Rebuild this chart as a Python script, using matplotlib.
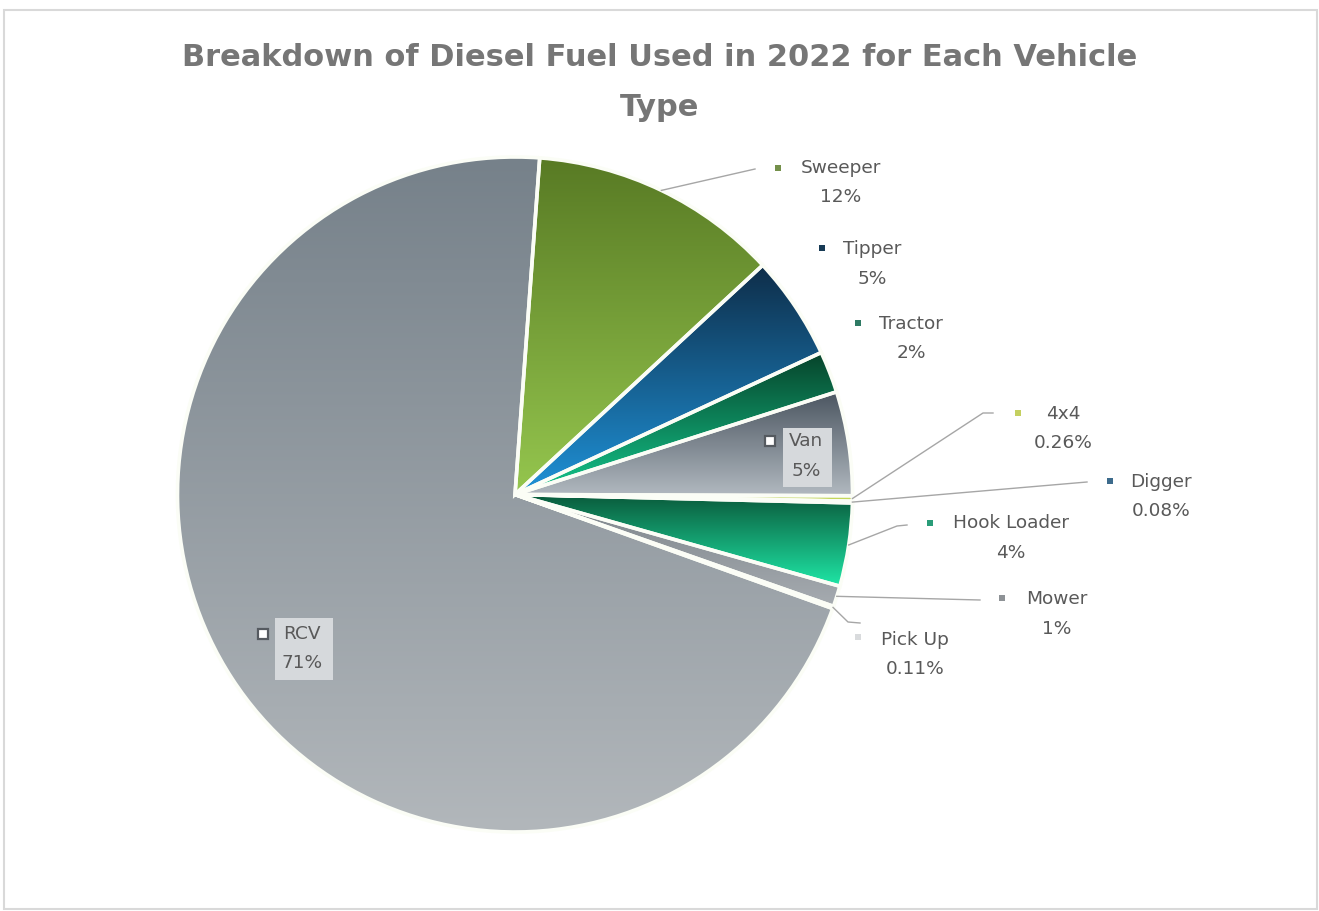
import numpy as np
import matplotlib
matplotlib.use("Agg")
import matplotlib.pyplot as plt
from matplotlib.patches import Rectangle
from matplotlib.colors import to_rgb

# ---------------- data ----------------
categories = ["Sweeper", "Tipper", "Tractor", "Van", "4x4", "Digger",
              "Hook Loader", "Mower", "Pick Up", "RCV"]
values = [12, 5, 2, 5, 0.26, 0.08, 4, 1, 0.11, 71]
pct_labels = ["12%", "5%", "2%", "5%", "0.26%", "0.08%", "4%", "1%", "0.11%", "71%"]
title = "Breakdown of Diesel Fuel Used in 2022 for Each Vehicle\nType"

# ---------------- styles ----------------
grad_top = ["#587a24", "#0e2d48", "#07432a", "#4b5661", "#a9bd35", "#2f5f82",
            "#0a5a3b", "#7b8389", "#bfc3c7", "#76818a"]
grad_bot = ["#95c64e", "#1f92d8", "#14c78c", "#b2b9c0", "#d4e670", "#4a86b0",
            "#1fe6a6", "#a6abb0", "#e0e2e4", "#b2b7bb"]
key_colors = ["#74904a", "#173a55", "#2f7a64", "#ffffff", "#c4d060", "#3d6b8c",
              "#2a9c78", "#8e9296", "#d9dbdd", "#ffffff"]

W, H = 1319, 911
fig = plt.figure(figsize=(W / 100, H / 100), dpi=100)
ax = fig.add_axes([0, 0, 1, 1])


def P(x, y):
    """pixel (top-left origin) -> data coords"""
    return x, H - y


cx, cy = P(515, 494.5)
R = 337.5
start_offset = 4.2  # degrees clockwise from 12 o'clock

wedges, _ = ax.pie(values, startangle=90 - start_offset, counterclock=False,
                   center=(cx, cy), radius=R,
                   wedgeprops=dict(edgecolor="#fbfdf6", linewidth=2.6, facecolor="none"))

# gradient fills clipped to wedges
for w, ct, cb in zip(wedges, grad_top, grad_bot):
    ext = w.get_path().get_extents()
    t = np.linspace(0, 1, 256)[:, None]
    c0, c1 = np.array(to_rgb(ct)), np.array(to_rgb(cb))
    img = (c0[None, :] * (1 - t) + c1[None, :] * t)[:, None, :]
    im = ax.imshow(img, extent=[ext.x0, ext.x1, ext.y0, ext.y1], origin="upper",
                   aspect="auto", zorder=0.5, interpolation="bilinear")
    im.set_clip_path(w)
    w.set_zorder(1)

# ---------------- labels ----------------
label_pos = [(841, 168), (872, 249), (911, 324), (806, 441), (1063, 414), (1161, 482),
             (1011, 523), (1057, 599), (915, 640), (302, 634)]
key_pos = [(778, 168), (822, 248), (858, 323), (770, 441), (1018, 413), (1110, 481),
           (930, 523), (1002, 598), (858, 637), (263, 634)]
leader_pts = [[(755, 169)], None, None, None, [(983, 413), (993, 413)], [(1087, 482)],
              [(897, 526), (907, 525)], [(980, 600)], [(848, 622), (860, 623)], None]
boxes = {3: (783, 428, 832, 487), 9: (275, 618, 333, 680)}

txt_color = "#595959"
fam = ["DejaVu Sans"]
lab_size = 13.3
line_gap = 29.5

for i, (name, pct) in enumerate(zip(categories, pct_labels)):
    lx, ly = label_pos[i]
    if i in boxes:
        x0, y0, x1, y1 = boxes[i]
        ax.add_patch(Rectangle(P(x0, y1), x1 - x0, y1 - y0, facecolor="#d6d9dc",
                               edgecolor="none", zorder=3))
    ax.text(*P(lx, ly), name, ha="center", va="center", fontsize=lab_size,
            color=txt_color, family=fam, zorder=4)
    ax.text(*P(lx, ly + line_gap), pct, ha="center", va="center", fontsize=lab_size,
            color=txt_color, family=fam, zorder=4)
    kx, ky = key_pos[i]
    if key_colors[i] == "#ffffff":
        ax.plot(*P(kx, ky), marker="s", markersize=7, markerfacecolor="white",
                markeredgecolor="#555a60", markeredgewidth=1.6, zorder=4)
    else:
        ax.plot(*P(kx, ky), marker="s", markersize=4.5, color=key_colors[i],
                markeredgewidth=0, zorder=4)
    if leader_pts[i] is not None:
        w = wedges[i]
        mid = np.deg2rad((w.theta1 + w.theta2) / 2)
        sx, sy = cx + R * np.cos(mid), cy + R * np.sin(mid)
        xs = [sx] + [P(*p)[0] for p in leader_pts[i]]
        ys = [sy] + [P(*p)[1] for p in leader_pts[i]]
        ax.plot(xs, ys, color="#a6a6a6", linewidth=1.0, zorder=2)

# ---------------- title ----------------
t1, t2 = title.split("\n")
ax.text(*P(660, 58), t1, ha="center", va="center", fontsize=22, fontweight="bold",
        color="#767676", family=["DejaVu Sans"])
ax.text(*P(660, 108), t2, ha="center", va="center", fontsize=22, fontweight="bold",
        color="#767676", family=["DejaVu Sans"])

# chart border
ax.add_patch(Rectangle(P(4, 909), 1313, 899, facecolor="none", edgecolor="#d9d9d9",
                       linewidth=1.5, zorder=0))

ax.set_xlim(0, W)
ax.set_ylim(0, H)
ax.set_aspect("auto")
ax.axis("off")

fig.savefig("out.png", dpi=100, facecolor="white")
